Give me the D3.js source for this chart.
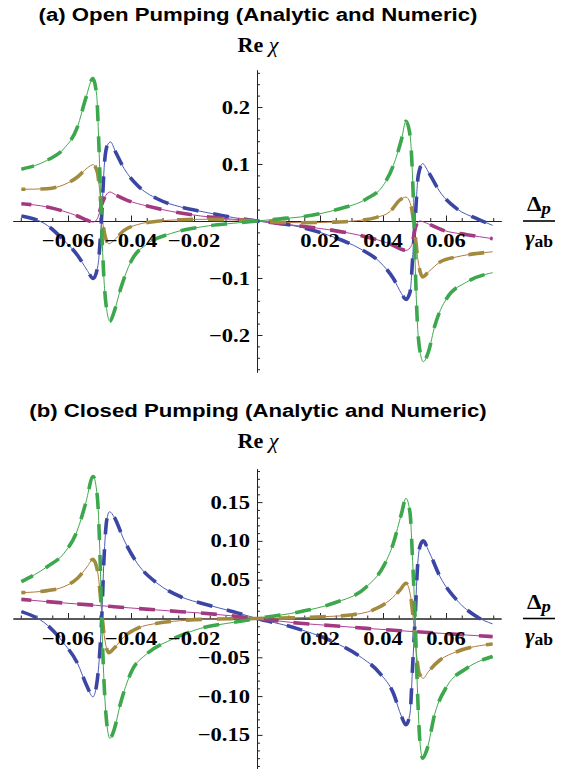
<!DOCTYPE html>
<html>
<head>
<meta charset="utf-8">
<script src="https://cdn.jsdelivr.net/npm/d3@7"></script>
<style>
  body { margin: 0; background: #fff; }
  svg { display: block; }
</style>
</head>
<body>
<script>
// Tick values
const xMajorTicks = [-0.06, -0.04, -0.02, 0.02, 0.04, 0.06];
const openYTicks = [-0.2, -0.1, 0.1, 0.2];
const closedYTicks = [-0.15, -0.1, -0.05, 0.05, 0.1, 0.15];

// (a) open pumping, [detuning, Re chi]
const openBlue = [[-0.0748, 0.0088], [-0.0666, -0.0076], [-0.0613, -0.034], [-0.0570, -0.060], [-0.0539, -0.0866], [-0.0520, -0.101], [-0.0505, -0.078], [-0.0494, 0], [-0.0484, 0.1035], [-0.0475, 0.133], [-0.0465, 0.1386], [-0.0449, 0.121], [-0.0422, 0.092], [-0.0380, 0.0626], [-0.0317, 0.039], [-0.0242, 0.0246], [-0.0168, 0.0158], [-0.0075, 0.006], [0, 0], [0.0137, -0.0105], [0.0242, -0.028], [0.0327, -0.0486], [0.0390, -0.072], [0.0433, -0.101], [0.0459, -0.1275], [0.0473, -0.1375], [0.0486, -0.1246], [0.0496, -0.0486], [0.0502, 0], [0.0512, 0.080], [0.0526, 0.1006], [0.0544, 0.086], [0.0581, 0.051], [0.0634, 0.0216], [0.0698, 0.004], [0.0748, -0.0076]];
const openMagenta = [[-0.0748, 0.0304], [-0.0666, 0.0246], [-0.0613, 0.017], [-0.0570, 0.0088], [-0.0539, 0.0012], [-0.0520, -0.0018], [-0.0507, 0.004], [-0.0494, 0.0275], [-0.0480, 0.045], [-0.0467, 0.0509], [-0.0449, 0.046], [-0.0412, 0.0363], [-0.0348, 0.0263], [-0.0274, 0.017], [-0.0179, 0.0088], [-0.0075, 0.003], [0, 0], [0.0137, -0.0088], [0.0242, -0.0164], [0.0348, -0.028], [0.0422, -0.040], [0.0473, -0.0515], [0.0491, -0.0427], [0.0502, -0.0135], [0.0517, 0], [0.0539, -0.004], [0.0592, -0.0164], [0.0666, -0.024], [0.0748, -0.031]];
const openGold = [[-0.0748, 0.0556], [-0.0666, 0.0567], [-0.0613, 0.0637], [-0.0570, 0.0772], [-0.0539, 0.093], [-0.0520, 0.0988], [-0.0507, 0.086], [-0.0498, 0.045], [-0.0491, 0.004], [-0.0480, -0.031], [-0.0470, -0.040], [-0.0454, -0.034], [-0.0422, -0.0164], [-0.0380, -0.0064], [-0.0317, -0.0005], [-0.0242, 0.0023], [-0.0168, 0.003], [-0.008, 0.002], [0, 0], [0.0137, -0.003], [0.0242, -0.002], [0.0317, 0.0005], [0.0380, 0.0064], [0.0422, 0.0164], [0.0454, 0.037], [0.0473, 0.042], [0.0486, 0.032], [0.0491, 0.0216], [0.0502, -0.025], [0.0512, -0.072], [0.0526, -0.098], [0.0544, -0.0895], [0.0581, -0.072], [0.0634, -0.063], [0.0698, -0.057], [0.0748, -0.054]];
const openGreen = [[-0.0748, 0.091], [-0.0666, 0.1065], [-0.0613, 0.127], [-0.0570, 0.165], [-0.0544, 0.2146], [-0.0521, 0.2497], [-0.0509, 0.2205], [-0.0502, 0.133], [-0.0494, 0], [-0.0486, -0.101], [-0.0475, -0.163], [-0.0467, -0.176], [-0.0454, -0.160], [-0.0433, -0.119], [-0.0401, -0.072], [-0.0348, -0.040], [-0.0274, -0.022], [-0.0179, -0.0105], [-0.0076, -0.004], [0, 0], [0.0076, 0.004], [0.0137, 0.007], [0.0263, 0.0216], [0.0348, 0.039], [0.0401, 0.0626], [0.0433, 0.0977], [0.0459, 0.144], [0.0473, 0.175], [0.0486, 0.150], [0.0496, 0.045], [0.0502, -0.072], [0.0509, -0.177], [0.0520, -0.236], [0.0528, -0.247], [0.0544, -0.230], [0.0565, -0.183], [0.0602, -0.136], [0.0666, -0.107], [0.0748, -0.0906]];

// (b) closed pumping
const closedBlue = [[-0.0748, 0.0088], [-0.0666, -0.0084], [-0.0613, -0.032], [-0.0570, -0.0577], [-0.0539, -0.088], [-0.0521, -0.101], [-0.0507, -0.079], [-0.0498, -0.036], [-0.0493, 0], [-0.0486, 0.075], [-0.0477, 0.127], [-0.0468, 0.1376], [-0.0454, 0.131], [-0.0422, 0.101], [-0.0380, 0.071], [-0.0317, 0.0454], [-0.0242, 0.028], [-0.0168, 0.0187], [-0.0075, 0.0088], [0, 0], [0.0111, -0.011], [0.0242, -0.030], [0.0327, -0.049], [0.0390, -0.0706], [0.0433, -0.0964], [0.0459, -0.1265], [0.0473, -0.137], [0.0486, -0.122], [0.0494, -0.062], [0.0502, 0], [0.0509, 0.0625], [0.0517, 0.0925], [0.0528, 0.100], [0.0544, 0.088], [0.0581, 0.054], [0.0634, 0.0238], [0.0698, 0.0023], [0.0748, -0.007]];
const closedMagenta = [[-0.0748, 0.0247], [-0.0666, 0.0217], [-0.0570, 0.0187], [-0.0512, 0.017], [-0.0454, 0.0152], [-0.0317, 0.011], [-0.0242, 0.0088], [-0.0168, 0.0067], [0, 0], [0.0137, -0.0062], [0.0242, -0.0093], [0.0348, -0.0127], [0.0454, -0.0157], [0.0502, -0.017], [0.0581, -0.019], [0.0666, -0.0213], [0.0748, -0.0234]];
const closedGold = [[-0.0748, 0.0333], [-0.0666, 0.0359], [-0.0613, 0.041], [-0.0570, 0.0518], [-0.0539, 0.0668], [-0.0521, 0.0763], [-0.0507, 0.0625], [-0.0498, 0.0325], [-0.0491, 0], [-0.0483, -0.0277], [-0.0470, -0.044], [-0.0454, -0.0384], [-0.0422, -0.0234], [-0.0380, -0.0127], [-0.0317, -0.0062], [-0.0242, -0.0028], [-0.0168, -0.001], [0, 0], [0.0211, 0.0023], [0.0295, 0.0045], [0.0369, 0.011], [0.0422, 0.0238], [0.0454, 0.0367], [0.0473, 0.0454], [0.0486, 0.0325], [0.0496, 0], [0.0505, -0.0406], [0.0515, -0.0706], [0.0528, -0.077], [0.0544, -0.0686], [0.0581, -0.0535], [0.0634, -0.0428], [0.0748, -0.0329]];
const closedGreen = [[-0.0748, 0.0474], [-0.0666, 0.0668], [-0.0613, 0.084], [-0.0570, 0.114], [-0.0544, 0.1485], [-0.0520, 0.183], [-0.0507, 0.157], [-0.0498, 0.075], [-0.0493, 0], [-0.0486, -0.079], [-0.0477, -0.135], [-0.0467, -0.1545], [-0.0454, -0.1437], [-0.0433, -0.109], [-0.0401, -0.0706], [-0.0348, -0.0449], [-0.0274, -0.0277], [-0.0179, -0.0127], [-0.0075, -0.005], [0, 0], [0.0137, 0.0088], [0.0242, 0.0196], [0.0348, 0.041], [0.0401, 0.0668], [0.0433, 0.097], [0.0459, 0.1356], [0.0473, 0.155], [0.0486, 0.1356], [0.0494, 0.075], [0.0502, 0], [0.0509, -0.088], [0.0517, -0.157], [0.0526, -0.180], [0.0539, -0.1695], [0.0565, -0.122], [0.0602, -0.088], [0.0666, -0.064], [0.0748, -0.049]];

const styles = [
  { thin: "#4a5cb8", thick: "#3b46a4", offset: 0 },
  { thin: "#b0409c", thick: "#a33a80", offset: 6 },
  { thin: "#b27a44", thick: "#a38b3e", offset: 12 },
  { thin: "#3faa4c", thick: "#3ca74c", offset: 3 }
];

const panels = [
  { title: "(a) Open Pumping (Analytic and Numeric)", titleY: 21, labelY: 52,
    yDomain: [-0.265, 0.265], zero: 221, perUnit: 570, ticks: openYTicks, minorStep: 0.02, fmt: d3.format(".1f"),
    series: [openBlue, openMagenta, openGold, openGreen] },
  { title: "(b) Closed Pumping (Analytic and Numeric)", titleY: 417, labelY: 448,
    yDomain: [-0.193, 0.193], zero: 618.5, perUnit: 776, ticks: closedYTicks, minorStep: 0.01, fmt: d3.format(".2f"),
    series: [closedBlue, closedMagenta, closedGold, closedGreen] }
];

const serif = "'Liberation Serif', 'Times New Roman', Times, serif";
const sans = "'Liberation Sans', Arial, Helvetica, sans-serif";

const svg = d3.select("body").append("svg").attr("width", 574).attr("height", 773);

const x = d3.scaleLinear().domain([-0.0775, 0.0775]).range([257 - 244.1, 257 + 244.1]);
const x0 = x(0);

// stretched text (the original is wider than plain fonts)
function stretchText(px, py, sx, anchor) {
  return svg.append("g").attr("transform", `translate(${px},${py}) scale(${sx},1)`)
    .append("text").attr("text-anchor", anchor);
}

const minus = s => s.replace("-", "\u2212");

panels.forEach(p => {
  const y = d3.scaleLinear().domain(p.yDomain)
    .range([p.zero + p.yDomain[1] * p.perUnit, p.zero - p.yDomain[1] * p.perUnit]);
  const g = svg.append("g");

  // title
  stretchText(258, p.titleY, 1.2, "middle")
    .attr("font-family", sans).attr("font-weight", "bold").attr("font-size", 18.5)
    .text(p.title);

  // Re chi label
  const re = stretchText(258, p.labelY, 1.05, "middle")
    .attr("font-family", serif).attr("font-size", 21);
  re.append("tspan").attr("font-weight", "bold").text("Re ");
  re.append("tspan").attr("font-style", "italic").text("\u03c7");

  // x axis
  const xMinor = d3.range(-0.075, 0.0751, 0.005).filter(v => Math.abs(Math.round(v * 1000) % 20) !== 0);
  g.append("g").attr("transform", `translate(0,${y(0)})`)
    .call(d3.axisBottom(x).tickValues(xMinor).tickSize(-3).tickSizeOuter(0).tickFormat(""));
  g.append("g").attr("transform", `translate(0,${y(0)})`)
    .call(d3.axisBottom(x).tickValues(xMajorTicks).tickSize(-5.5).tickSizeOuter(0).tickFormat(""));

  // y axis
  const n = Math.floor(p.yDomain[1] / p.minorStep + 1e-6);
  const yMinor = d3.range(-n, n + 1).map(i => i * p.minorStep)
    .filter(v => Math.abs(v) > 1e-9 && !p.ticks.some(t => Math.abs(t - v) < 1e-9));
  g.append("g").attr("transform", `translate(${x0},0)`)
    .call(d3.axisRight(y).tickValues(yMinor).tickSize(3).tickSizeOuter(0).tickFormat(""));
  g.append("g").attr("transform", `translate(${x0},0)`)
    .call(d3.axisRight(y).tickValues(p.ticks).tickSize(5.5).tickSizeOuter(0).tickFormat(""));

  g.selectAll(".domain, .tick line").attr("stroke", "#222").attr("stroke-width", 1);

  // tick labels
  xMajorTicks.forEach(t => {
    stretchText(x(t), y(0) + 26, 1.22, "middle")
      .attr("font-family", serif).attr("font-weight", "bold").attr("font-size", 18.5)
      .text(minus(d3.format(".2f")(t)));
  });
  p.ticks.forEach(t => {
    stretchText(x0 - 7, y(t) + 6.5, 1.22, "end")
      .attr("font-family", serif).attr("font-weight", "bold").attr("font-size", 18.5)
      .text(minus(p.fmt(t)));
  });

  // Delta_p / gamma_ab label
  const lx = 539, ly = y(0);
  const num = stretchText(lx, ly - 10, 1.1, "middle")
    .attr("font-family", serif).attr("font-weight", "bold").attr("font-size", 21);
  num.append("tspan").text("\u0394");
  num.append("tspan").attr("font-style", "italic").attr("font-size", 17).attr("dy", 3).text("p");
  svg.append("line").attr("x1", lx - 16).attr("x2", lx + 16).attr("y1", ly).attr("y2", ly)
    .attr("stroke", "#000").attr("stroke-width", 1.6);
  const den = stretchText(lx, ly + 24, 1.1, "middle")
    .attr("font-family", serif).attr("font-weight", "bold").attr("font-size", 21);
  den.append("tspan").attr("font-style", "italic").text("\u03b3");
  den.append("tspan").attr("font-size", 16).attr("dy", 2).text("ab");

  // curves: thin analytic line, thick dashed numeric line on top
  const line = d3.line().x(d => x(d[0])).y(d => y(d[1])).curve(d3.curveMonotoneX);
  p.series.forEach((s, i) => {
    g.append("path").datum(s).attr("d", line)
      .attr("fill", "none").attr("stroke", styles[i].thin).attr("stroke-width", 1);
  });
  p.series.forEach((s, i) => {
    g.append("path").datum(s).attr("d", line)
      .attr("fill", "none").attr("stroke", styles[i].thick).attr("stroke-width", 3.6)
      .attr("stroke-dasharray", "16,15").attr("stroke-dashoffset", styles[i].offset);
  });
});
</script>
</body>
</html>
